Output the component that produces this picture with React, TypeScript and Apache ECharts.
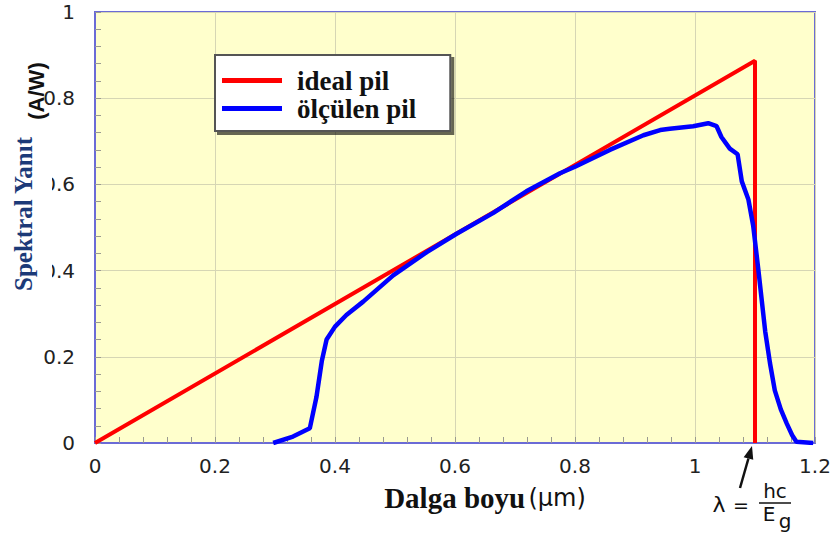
import React, { useEffect, useRef } from "react";
import * as echarts from "echarts";

const seriesNames = ["ideal pil", "ölçülen pil"];
const idealX = [0, 1.1, 1.1];
const idealY = [0, 0.887, 0];
const measuredX = [
  0.297, 0.33, 0.358, 0.369, 0.378, 0.386, 0.4, 0.419, 0.447, 0.497, 0.553, 0.602,
  0.664, 0.719, 0.775, 0.8, 0.858, 0.914, 0.942, 0.958, 0.997, 1.022, 1.036, 1.044,
  1.058, 1.071, 1.078, 1.089, 1.097, 1.106, 1.117, 1.125, 1.133, 1.143, 1.153, 1.162,
  1.169, 1.197,
];
const measuredY = [
  0, 0.015, 0.034, 0.106, 0.19, 0.24, 0.27, 0.297, 0.328, 0.389, 0.443, 0.485,
  0.534, 0.584, 0.626, 0.641, 0.68, 0.714, 0.726, 0.729, 0.735, 0.742, 0.735, 0.71,
  0.683, 0.67, 0.607, 0.565, 0.504, 0.397, 0.259, 0.185, 0.122, 0.078, 0.045, 0.018,
  0.003, 0,
];
const xMin = 0, xMax = 1.2, xStep = 0.2;
const yMin = 0, yMax = 1, yStep = 0.2;

const frame = "#6b6bd6";
const grid = "#d6d6b4";
const tickCol = "#9a9a90";

export default function App() {
  const ref = useRef<HTMLDivElement>(null);
  useEffect(() => {
    const chart = echarts.init(ref.current!, null, { renderer: "svg" });
    const axisCommon = {
      type: "value",
      axisLine: { show: true, lineStyle: { color: frame, width: 2 } },
      axisTick: { show: true, inside: true, length: 6, lineStyle: { color: tickCol } },
      minorTick: { show: true, splitNumber: 5, length: 6, lineStyle: { color: tickCol } },
      splitLine: { show: true, lineStyle: { color: grid, width: 1 } },
      axisLabel: { fontFamily: "DejaVu Sans", fontSize: 20, color: "#222", lineHeight: 18 },
    };
    chart.setOption({
      animation: false,
      grid: {
        left: 95, right: 20, top: 12, bottom: 95,
        show: true, backgroundColor: "#FFFFCC", borderColor: frame, borderWidth: 2,
      },
      legend: {
        orient: "vertical", left: 215, top: 55,
        data: seriesNames.map((n) => ({ name: n, icon: "rect" })),
        itemWidth: 60, itemHeight: 5, itemGap: 1,
        backgroundColor: "#fff", borderColor: "#555", borderWidth: 2,
        padding: [12, 34, 9, 7],
        shadowColor: "rgba(0,0,0,0.6)", shadowOffsetX: 3, shadowOffsetY: 3, shadowBlur: 1,
        textStyle: {
          fontFamily: "Liberation Serif", fontWeight: "bold", fontSize: 27, color: "#111",
          padding: [0, 0, 0, 10],
        },
      },
      xAxis: {
        ...axisCommon,
        min: xMin, max: xMax, interval: xStep,
        axisLabel: { ...axisCommon.axisLabel, margin: 14 },
        name: "{a|Dalga boyu} {b|(µm)}",
        nameLocation: "middle",
        nameGap: 40,
        nameTextStyle: {
          padding: [0, 0, 0, 60],
          rich: {
            a: { fontFamily: "Liberation Serif", fontWeight: "bold", fontSize: 29, color: "#111" },
            b: { fontFamily: "DejaVu Sans", fontSize: 24, color: "#111" },
          },
        },
      },
      yAxis: {
        ...axisCommon,
        min: yMin, max: yMax, interval: yStep,
        axisLabel: { ...axisCommon.axisLabel, margin: 20 },
      },
      series: [
        {
          name: seriesNames[0], type: "line", symbol: "none",
          data: idealX.map((x, i) => [x, idealY[i]]),
          lineStyle: { color: "#ff0000", width: 4 }, itemStyle: { color: "#ff0000" },
        },
        {
          name: seriesNames[1], type: "line", symbol: "none",
          data: measuredX.map((x, i) => [x, measuredY[i]]),
          lineStyle: { color: "#0000ff", width: 4.5 }, itemStyle: { color: "#0000ff" },
        },
      ],
    });
    const tip = chart.convertToPixel({ gridIndex: 0 }, [idealX[1], 0]) as number[];
    const tx = tip[0] - 3, ty = tip[1] + 3;
    const sx = tx - 12, sy = ty + 42;
    const len = Math.hypot(tx - sx, ty - sy);
    const ux = (tx - sx) / len, uy = (ty - sy) / len;
    const px = -uy, py = ux;
    const hl = 13, hw = 5;
    const bx = tx - ux * hl, by = ty - uy * hl;
    const txt = (text: string, x: number, y: number, size: number, extra: any = {}) => ({
      type: "text", x, y, z: 100,
      style: {
        text, fontFamily: "DejaVu Sans", fontSize: size, fill: "#111",
        align: "center", verticalAlign: "middle", textAlign: "center", textVerticalAlign: "middle",
        ...extra,
      },
    });
    chart.setOption({
      graphic: [
        { type: "rect", z: 99, shape: { x: 6, y: 134, width: 46, height: 160 }, style: { fill: "#fff" } },
        {
          type: "text", x: 23, y: 214, rotation: Math.PI / 2, z: 100,
          style: {
            text: "Spektral Yanıt", fontFamily: "Liberation Serif", fontWeight: "bold", fontSize: 25,
            fill: "#1c3a78", align: "center", verticalAlign: "middle", textAlign: "center", textVerticalAlign: "middle",
          },
        },
        {
          type: "text", x: 36, y: 91, rotation: Math.PI / 2, z: 100,
          style: {
            text: "(A/W)", fontFamily: "Liberation Sans", fontWeight: "bold", fontSize: 22,
            fill: "#111", align: "center", verticalAlign: "middle", textAlign: "center", textVerticalAlign: "middle",
          },
        },
        { type: "line", z: 100, shape: { x1: sx, y1: sy, x2: bx, y2: by }, style: { stroke: "#111", lineWidth: 2.5 } },
        {
          type: "polygon", z: 100,
          shape: { points: [[tx, ty], [bx + px * hw, by + py * hw], [bx - px * hw, by - py * hw]] },
          style: { fill: "#111" },
        },
        txt("λ", 719, 504, 22),
        txt("=", 741, 505, 19),
        txt("hc", 775, 491, 20),
        { type: "line", z: 100, shape: { x1: 759, y1: 503, x2: 791, y2: 503 }, style: { stroke: "#111", lineWidth: 1.5 } },
        txt("E", 769, 514, 20),
        txt("g", 785, 521, 20),
      ],
    });
    return () => chart.dispose();
  }, []);
  return <div ref={ref} style={{ position: "absolute", left: 0, top: 0, width: 835, height: 538 }} />;
}
